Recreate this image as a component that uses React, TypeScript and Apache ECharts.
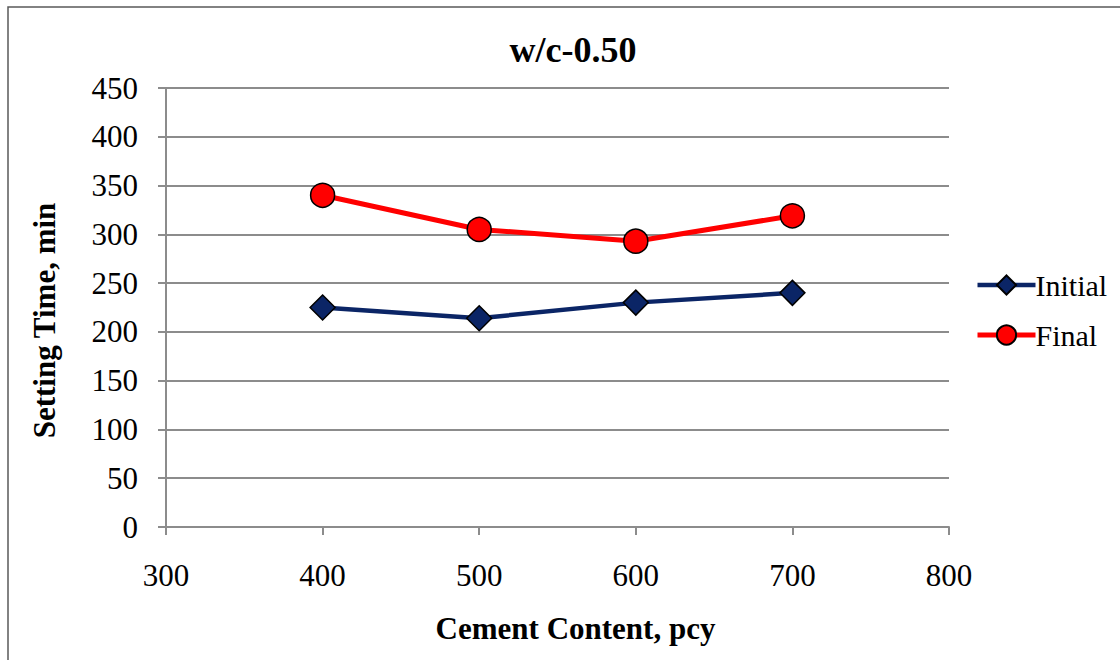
import React, { useEffect, useRef } from "react";
import * as echarts from "echarts";

const cementContent = [400, 500, 600, 700];
const initialTime = [225, 214, 230, 240];
const finalTime = [340, 305, 293, 319];
const seriesNames = ["Initial", "Final"];

const FONT = "Liberation Serif, Times New Roman, serif";

export default function App() {
  const ref = useRef<HTMLDivElement>(null);
  useEffect(() => {
    if (!ref.current) return;
    const chart = echarts.init(ref.current, null, { renderer: "svg" });
    const gray = "#8c8c8c";
    chart.setOption({
      animation: false,
      backgroundColor: "#ffffff",
      textStyle: { fontFamily: FONT, color: "#000" },
      title: {
        text: "w/c-0.50",
        left: 568,
        top: 27,
        textAlign: "center",
        textStyle: { fontFamily: FONT, fontWeight: "bold", fontSize: 36, color: "#000" },
      },
      graphic: [
        {
          type: "rect",
          shape: { x: 8, y: 7, width: 1300, height: 1000 },
          style: { fill: "none", stroke: "#595959", lineWidth: 1.5 },
          silent: true,
        },
      ],
      legend: {
        orient: "vertical",
        left: 970,
        top: 265,
        itemWidth: 58,
        itemHeight: 24,
        itemGap: 20,
        lineStyle: { width: "inherit" },
        textStyle: { fontFamily: FONT, fontSize: 30, color: "#000", padding: [0, 0, 0, -5] },
        data: seriesNames,
      },
      grid: { left: 166, right: 171, top: 88, bottom: 133, containLabel: false },
      xAxis: {
        type: "value",
        min: 300,
        max: 800,
        interval: 100,
        name: "Cement Content, pcy",
        nameLocation: "middle",
        nameGap: 86,
        nameTextStyle: {
          fontFamily: FONT,
          fontWeight: "bold",
          fontSize: 31,
          color: "#000",
          padding: [0, 0, 0, 36],
        },
        axisLine: { show: true, onZero: false, lineStyle: { color: gray, width: 2 } },
        axisTick: { show: true, length: 8, lineStyle: { color: gray, width: 2 } },
        axisLabel: { fontFamily: FONT, fontSize: 31, color: "#000", margin: 33 },
        splitLine: { show: false },
      },
      yAxis: {
        type: "value",
        min: 0,
        max: 450,
        interval: 50,
        name: "Setting Time, min",
        nameLocation: "middle",
        nameGap: 106,
        nameRotate: 90,
        nameTextStyle: {
          fontFamily: FONT,
          fontWeight: "bold",
          fontSize: 31,
          color: "#000",
          padding: [0, 26, 0, 0],
        },
        axisLine: { show: true, lineStyle: { color: gray, width: 2 } },
        axisTick: { show: true, length: 8, lineStyle: { color: gray, width: 2 } },
        axisLabel: { fontFamily: FONT, fontSize: 31, color: "#000", margin: 28 },
        splitLine: { show: true, lineStyle: { color: gray, width: 2 } },
      },
      series: [
        {
          name: seriesNames[0],
          type: "line",
          data: cementContent.map((c, i) => [c, initialTime[i]]),
          symbol: "diamond",
          symbolSize: 25,
          lineStyle: { color: "#0b2566", width: 4.5 },
          itemStyle: { color: "#0b2566", borderColor: "#000", borderWidth: 1.5 },
        },
        {
          name: seriesNames[1],
          type: "line",
          data: cementContent.map((c, i) => [c, finalTime[i]]),
          symbol: "circle",
          symbolSize: 24,
          lineStyle: { color: "#ff0000", width: 5 },
          itemStyle: { color: "#ff0000", borderColor: "#000", borderWidth: 1.5 },
        },
      ],
    });
    return () => chart.dispose();
  }, []);
  return (
    <div
      ref={ref}
      style={{ position: "fixed", left: 0, top: 0, width: 1120, height: 660 }}
    />
  );
}
